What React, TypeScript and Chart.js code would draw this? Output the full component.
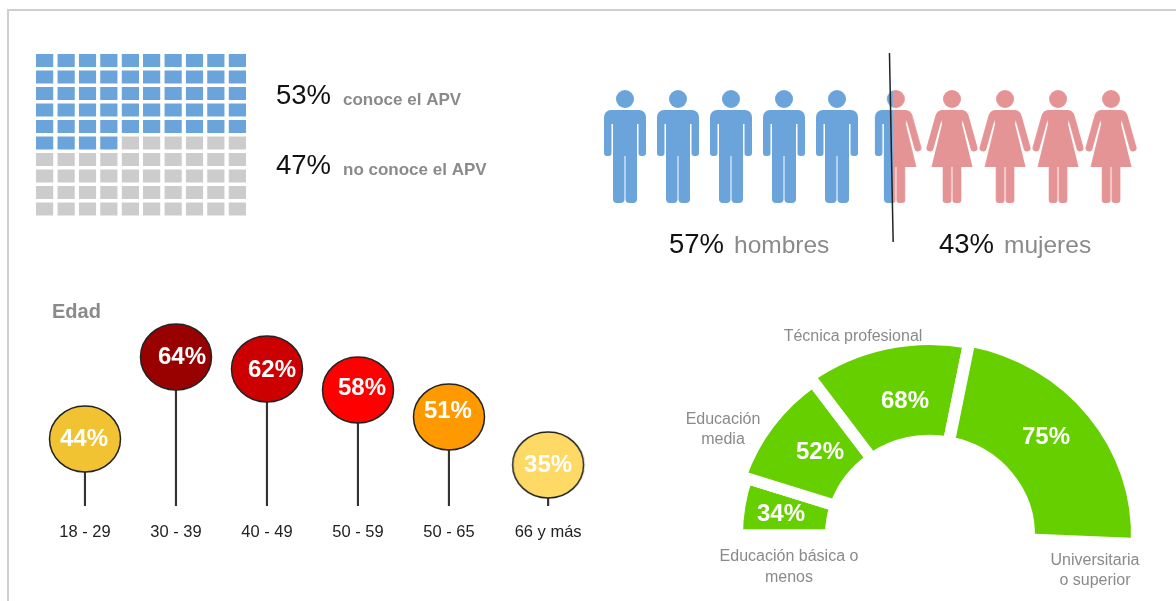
import React, { useEffect, useRef } from "react";
import { Chart, registerables } from "chart.js";

Chart.register(...registerables);

// ---- data ----
const waffleColumns = ["1", "2", "3", "4", "5", "6", "7", "8", "9", "10"];
const waffleBluePerRow = [10, 10, 10, 10, 10, 4, 0, 0, 0, 0];
const menSlots = [0, 1, 2, 3, 4, 5.11];
const womenSlots = [5.11, 6.17, 7.17, 8.17, 9.17];
const dividerX = [4.99, 5.06];
const dividerY = [103.5, 9];
const ageLabels = ["18 - 29", "30 - 39", "40 - 49", "50 - 59", "50 - 65", "66 y más"];
const ageValues = [44, 64, 62, 58, 51, 35];
const ageSlots = [1, 2, 3, 4, 5, 6.09];
const ageHeights = [67, 149, 137, 116, 89, 41];
const ageColors = ["#F1C232", "#990000", "#CC0000", "#FF0000", "#FF9900", "#FFD966"];
const gaugeValues = [34, 52, 68, 75];
const gaugeHeights = [193, 199, 205, 207];
const gaugeSweeps = [18, 36, 47, 81.5];

const FONT = "'Liberation Sans', Arial, sans-serif";
const BLUE = "#6AA4DB";
const PINK = "#E59496";
const GREY = "#8A8A8A";

type Text = { t: string; x: number; y: number; font: string; color: string; align?: CanvasTextAlign };

function textPlugin(originX: number, originY: number, items: Text[]) {
  return {
    id: "texts",
    afterDraw(chart: any) {
      const ctx = chart.ctx;
      ctx.save();
      ctx.textBaseline = "middle";
      for (const it of items) {
        ctx.font = it.font;
        ctx.fillStyle = it.color;
        ctx.textAlign = it.align || "left";
        ctx.fillText(it.t, it.x - originX, it.y - originY);
      }
      ctx.restore();
    },
  };
}

function personIcon(kind: "man" | "woman", color: string, side: "all" | "left" | "right") {
  const c = document.createElement("canvas");
  c.width = 54;
  c.height = 116;
  const g = c.getContext("2d") as CanvasRenderingContext2D;
  const cx = 27;
  g.fillStyle = color;
  g.strokeStyle = color;
  if (side !== "all") {
    g.beginPath();
    if (side === "left") g.rect(0, 0, cx - 3, 116);
    else g.rect(cx - 3, 0, 54, 116);
    g.clip();
  }
  g.beginPath();
  g.arc(cx, 10, 9, 0, Math.PI * 2);
  g.fill();
  if (kind === "man") {
    g.beginPath();
    g.roundRect(cx - 21, 21, 42, 14, [7, 7, 0, 0]);
    g.roundRect(cx - 21, 34, 7.5, 33, [0, 0, 3, 3]);
    g.roundRect(cx + 13.5, 34, 7.5, 33, [0, 0, 3, 3]);
    g.rect(cx - 12, 34, 24, 33);
    g.roundRect(cx - 12, 66, 11.5, 48, [0, 0, 4, 4]);
    g.roundRect(cx + 0.5, 66, 11.5, 48, [0, 0, 4, 4]);
    g.fill();
  } else {
    g.beginPath();
    g.roundRect(cx - 16, 21, 32, 10, [6, 6, 0, 0]);
    g.moveTo(cx - 11, 30);
    g.lineTo(cx + 11, 30);
    g.lineTo(cx + 10, 35);
    g.lineTo(cx + 20.5, 78);
    g.lineTo(cx - 20.5, 78);
    g.lineTo(cx - 10, 35);
    g.closePath();
    g.roundRect(cx - 9.3, 77, 8.8, 37, [0, 0, 3, 3]);
    g.roundRect(cx + 0.5, 77, 8.8, 37, [0, 0, 3, 3]);
    g.fill();
    g.lineWidth = 7;
    g.lineCap = "round";
    g.beginPath();
    g.moveTo(cx - 13, 27);
    g.lineTo(cx - 22, 59);
    g.moveTo(cx + 13, 27);
    g.lineTo(cx + 22, 59);
    g.stroke();
  }
  return c;
}

function balloonIcon(color: string) {
  const c = document.createElement("canvas");
  c.width = 76;
  c.height = 70;
  const g = c.getContext("2d") as CanvasRenderingContext2D;
  g.beginPath();
  g.ellipse(38, 35, 35.5, 33, 0, 0, Math.PI * 2);
  g.fillStyle = color;
  g.fill();
  g.lineWidth = 1.5;
  g.strokeStyle = "#222";
  g.stroke();
  return c;
}

const base = {
  responsive: false,
  animation: false as const,
  events: [] as string[],
  plugins: { legend: { display: false }, tooltip: { enabled: false } },
};

export default function App() {
  const waffleRef = useRef<HTMLCanvasElement>(null);
  const peopleRef = useRef<HTMLCanvasElement>(null);
  const ageRef = useRef<HTMLCanvasElement>(null);
  const gaugeRef = useRef<HTMLCanvasElement>(null);

  useEffect(() => {
    const charts: Chart[] = [];

    // waffle
    charts.push(
      new Chart(waffleRef.current as HTMLCanvasElement, {
        type: "bar",
        data: {
          labels: waffleColumns,
          datasets: waffleBluePerRow.map((blue) => ({
            data: waffleColumns.map(() => 1),
            backgroundColor: waffleColumns.map((_, i) => (i < blue ? BLUE : "#CCCCCC")),
            borderColor: "#FFFFFF",
            borderWidth: { top: 2, bottom: 1.5, left: 0, right: 0 },
            borderSkipped: false,
            barPercentage: 0.82,
            categoryPercentage: 1,
          })),
        },
        options: {
          ...base,
          layout: { padding: { left: 4, right: 262, top: 12, bottom: 13 } },
          scales: {
            x: { stacked: true, display: false },
            y: { stacked: true, display: false, reverse: true, min: 0, max: 10 },
          },
        },
        plugins: [
          textPlugin(30, 40, [
            { t: "53%", x: 276, y: 96, font: `27.5px ${FONT}`, color: "#111" },
            { t: "conoce el APV", x: 343, y: 100, font: `bold 17px ${FONT}`, color: GREY },
            { t: "47%", x: 276, y: 166, font: `27.5px ${FONT}`, color: "#111" },
            { t: "no conoce el APV", x: 343, y: 170, font: `bold 17px ${FONT}`, color: GREY },
          ]),
        ],
      } as any)
    );

    // people pictogram
    const man = personIcon("man", BLUE, "all");
    const manHalf = personIcon("man", BLUE, "left");
    const woman = personIcon("woman", PINK, "all");
    const womanHalf = personIcon("woman", PINK, "right");
    charts.push(
      new Chart(peopleRef.current as HTMLCanvasElement, {
        type: "scatter",
        data: {
          datasets: [
            {
              label: "divisor",
              showLine: true,
              data: dividerX.map((x, i) => ({ x, y: dividerY[i] })),
              borderColor: "#222",
              borderWidth: 1.5,
              pointRadius: 0,
            },
            {
              label: "hombres",
              data: menSlots.map((x) => ({ x, y: 56.5 })),
              pointStyle: menSlots.map((_, i) => (i === 5 ? manHalf : man)),
              pointRadius: 5,
            },
            {
              label: "mujeres",
              data: womenSlots.map((x) => ({ x, y: 56.5 })),
              pointStyle: womenSlots.map((_, i) => (i === 0 ? womanHalf : woman)),
              pointRadius: 5,
            },
          ],
        },
        options: {
          ...base,
          layout: { autoPadding: false },
          scales: {
            x: { type: "linear", display: false, min: -0.66, max: 10.283 },
            y: { display: false, min: 0, max: 110 },
          },
        },
        plugins: [
          textPlugin(590, 40, [
            { t: "57%", x: 669, y: 245, font: `27.5px ${FONT}`, color: "#111" },
            { t: "hombres", x: 734, y: 246, font: `24.5px ${FONT}`, color: GREY },
            { t: "43%", x: 939, y: 245, font: `27.5px ${FONT}`, color: "#111" },
            { t: "mujeres", x: 1004, y: 246, font: `24.5px ${FONT}`, color: GREY },
          ]),
        ],
      } as any)
    );

    // age lollipops
    const ageLabelNudge = [
      [-1, 0],
      [6, 0],
      [5, 1],
      [4, -2],
      [-1, -6],
      [0, 0],
    ];
    charts.push(
      new Chart(ageRef.current as HTMLCanvasElement, {
        type: "bar",
        data: {
          datasets: [
            {
              type: "scatter",
              label: "globos",
              data: ageSlots.map((x, i) => ({ x, y: ageHeights[i] })),
              pointStyle: ageColors.map(balloonIcon),
              pointRadius: 35,
              clip: false,
            },
            {
              type: "bar",
              label: "varas",
              data: ageSlots.map((x, i) => ({ x, y: ageHeights[i] })),
              backgroundColor: "#333",
              barThickness: 1.5,
            },
          ],
        },
        options: {
          ...base,
          layout: { autoPadding: false },
          scales: {
            x: {
              type: "linear",
              min: 0.396,
              max: 6.66,
              offset: false,
              grid: { display: false },
              border: { display: false },
              afterBuildTicks(scale: any) {
                scale.ticks = ageSlots.map((value) => ({ value }));
              },
              afterFit(scale: any) {
                scale.height = 49;
              },
              ticks: {
                autoSkip: false,
                maxRotation: 0,
                padding: 9,
                color: "#222",
                font: { family: "'Liberation Sans'", size: 16.5 },
                callback: (_v: any, i: number) => ageLabels[i],
              },
            },
            y: { display: false, min: 0, max: 216 },
          },
        },
        plugins: [
          textPlugin(30, 290, [
            { t: "Edad", x: 52, y: 312, font: `bold 20px ${FONT}`, color: GREY },
          ]),
          {
            id: "balloonLabels",
            afterDraw(chart: any) {
              const ctx = chart.ctx;
              ctx.save();
              ctx.font = `bold 24px ${FONT}`;
              ctx.fillStyle = "#FFFFFF";
              ctx.textAlign = "center";
              ctx.textBaseline = "middle";
              chart.getDatasetMeta(0).data.forEach((p: any, i: number) => {
                ctx.fillText(`${ageValues[i]}%`, p.x + ageLabelNudge[i][0], p.y + ageLabelNudge[i][1]);
              });
              ctx.restore();
            },
          },
        ],
      } as any)
    );

    // gauge
    const gaugeLabelSpots = [
      [781, 514],
      [820, 452],
      [905, 401],
      [1046, 437],
    ];
    charts.push(
      new Chart(gaugeRef.current as HTMLCanvasElement, {
        type: "polarArea",
        data: {
          labels: ["Educación básica o menos", "Educación media", "Técnica profesional", "Universitaria o superior"],
          datasets: [
            {
              data: gaugeHeights,
              backgroundColor: "#66CF00",
              borderColor: "#FFFFFF",
              borderWidth: 12,
              borderJoinStyle: "miter",
              borderAlign: "center",
              angle: gaugeSweeps,
            },
          ],
        },
        options: {
          ...base,
          layout: { padding: { left: 40, right: 40, top: 5, bottom: 15 } },
          scales: { r: { display: false, min: 0, max: 220, startAngle: -90 } },
        },
        plugins: [
          {
            id: "ring",
            afterDatasetsUpdate(chart: any) {
              chart.getDatasetMeta(0).data.forEach((a: any) => {
                a.innerRadius = 99;
              });
            },
            beforeDatasetsDraw(chart: any) {
              const { x, y } = chart.getDatasetMeta(0).data[0];
              chart.ctx.save();
              chart.ctx.translate(x, y);
              chart.ctx.scale(1, 0.955);
              chart.ctx.translate(-x, -y);
            },
            afterDatasetsDraw(chart: any) {
              chart.ctx.restore();
            },
          },
          textPlugin(670, 310, [
            ...gaugeValues.map((v, i) => ({
              t: `${v}%`,
              x: gaugeLabelSpots[i][0],
              y: gaugeLabelSpots[i][1],
              font: `bold 24px ${FONT}`,
              color: "#FFFFFF",
              align: "center" as CanvasTextAlign,
            })),
            ...[
              ["Técnica profesional", 853, 337],
              ["Educación", 723, 420],
              ["media", 723, 440],
              ["Educación básica o", 789, 557],
              ["menos", 789, 578],
              ["Universitaria", 1095, 561],
              ["o superior", 1095, 581],
            ].map(([t, x, y]) => ({
              t: t as string,
              x: x as number,
              y: y as number,
              font: `16px ${FONT}`,
              color: GREY,
              align: "center" as CanvasTextAlign,
            })),
          ]),
        ],
      } as any)
    );

    return () => charts.forEach((c) => c.destroy());
  }, []);

  const place = (left: number, top: number): React.CSSProperties => ({ position: "absolute", left, top });

  return (
    <div style={{ position: "absolute", left: 0, top: 0, width: 1176, height: 601, overflow: "hidden", background: "#fff" }}>
      <div style={{ position: "absolute", left: 7, top: 9, width: 1200, height: 700, borderTop: "2px solid #CFCFCF", borderLeft: "2px solid #CFCFCF" }} />
      <canvas ref={waffleRef} width={480} height={190} style={place(30, 40)} />
      <canvas ref={peopleRef} width={580} height={220} style={place(590, 40)} />
      <canvas ref={ageRef} width={570} height={265} style={place(30, 290)} />
      <canvas ref={gaugeRef} width={520} height={460} style={place(670, 310)} />
    </div>
  );
}
